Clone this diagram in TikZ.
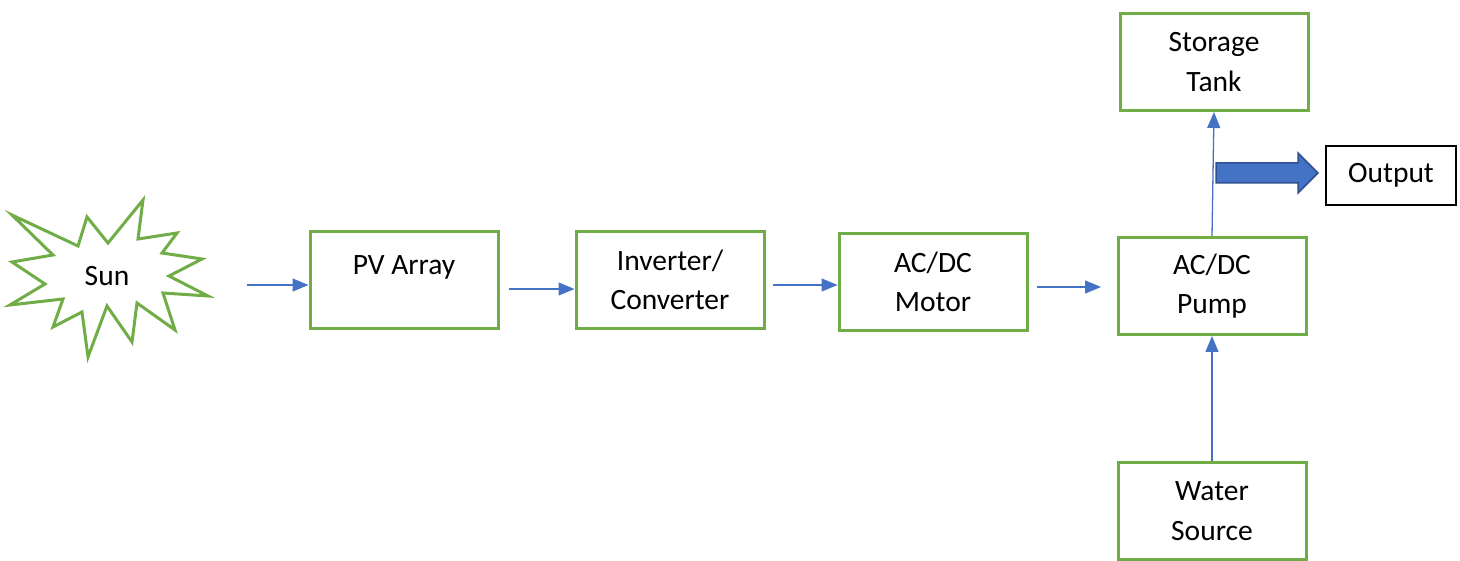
\documentclass[tikz,border=0pt]{standalone}
\usepackage{fontspec}
\setmainfont{Carlito}
\usetikzlibrary{arrows.meta}
\definecolor{boxgreen}{RGB}{112,173,71}
\definecolor{flowblue}{RGB}{68,114,196}
\definecolor{edgeblue}{RGB}{47,82,143}
\tikzset{
	box/.style={draw=boxgreen, line width=3pt, minimum width=188pt, minimum height=97pt,
		align=center, font=\fontsize{29.5}{39.5}\selectfont},
	flow/.style={draw=flowblue, line width=1.3pt, -{Triangle[length=16pt,width=13pt]}}
}
\begin{document}
\begin{tikzpicture}[x=1pt,y=1pt]
		\useasboundingbox (0,0) rectangle (1460,-561);
		% Sun
		\draw[boxgreen, line width=3pt, fill=white]
			(12,-215) -- (78,-246) -- (87,-217) -- (108,-243) -- (143,-200) -- (138,-239)
			-- (177,-233) -- (162,-253) -- (202,-259) -- (169,-276) -- (208,-296) -- (163,-293)
			-- (175,-330) -- (137,-303) -- (132,-342) -- (107,-306) -- (88,-357) -- (82,-312)
			-- (53,-327) -- (63,-299) -- (10,-305) -- (45,-284) -- (12,-262) -- (53,-255) -- cycle;
		\node[font=\fontsize{29.5}{39.5}\selectfont] (sun) at (107,-276) {Sun};
		% Blocks
		\node[box, text depth=30pt] (pv) at (404,-280) {PV Array};
		\foreach \name/\x/\y/\txt in {inv/670/-280/{Inverter/\\Converter},
			motor/933/-282/{AC/DC\\Motor}, pump/1212/-286/{AC/DC\\Pump},
			tank/1214/-62/{Storage\\Tank}, water/1212/-511/{Water\\Source}}{
		\node[box] (\name) at (\x,\y) {\txt};
		}
		\node[draw, line width=2pt, minimum width=130pt, minimum height=59pt,
			font=\fontsize{29.5}{39.5}\selectfont] (out) at (1391,-175.5) {Output};
		% Flow arrows
		\coordinate (s0) at (247,-285);
		\coordinate (p0) at (509,-289);
		\coordinate (i0) at (773,-285);
		\coordinate (m0) at (1037,-287);
		\coordinate (m1) at (1101,-287);
		\draw[flow] (s0) -- (s0 -| pv.west);
		\draw[flow] (p0) -- (p0 -| inv.west);
		\draw[flow] (i0) -- (i0 -| motor.west);
		\draw[flow] (m0) -- (m1);
		\draw[flow] (pump.north) -- (tank.south);
		\draw[flow] (water.north) -- (pump.south);
		% Output arrow
		\coordinate (b0) at (1216,-173);
		\coordinate (b1) at (1318,-173);
		\draw[edgeblue, fill=flowblue, line width=1.5pt]
			(b0) ++(0,10) -- ++(82,0) -- ++(0,10) -- (b1) -- ++(-20,-20) -- ++(0,10) -- ++(-82,0) -- cycle;
	\end{tikzpicture}
\end{document}
